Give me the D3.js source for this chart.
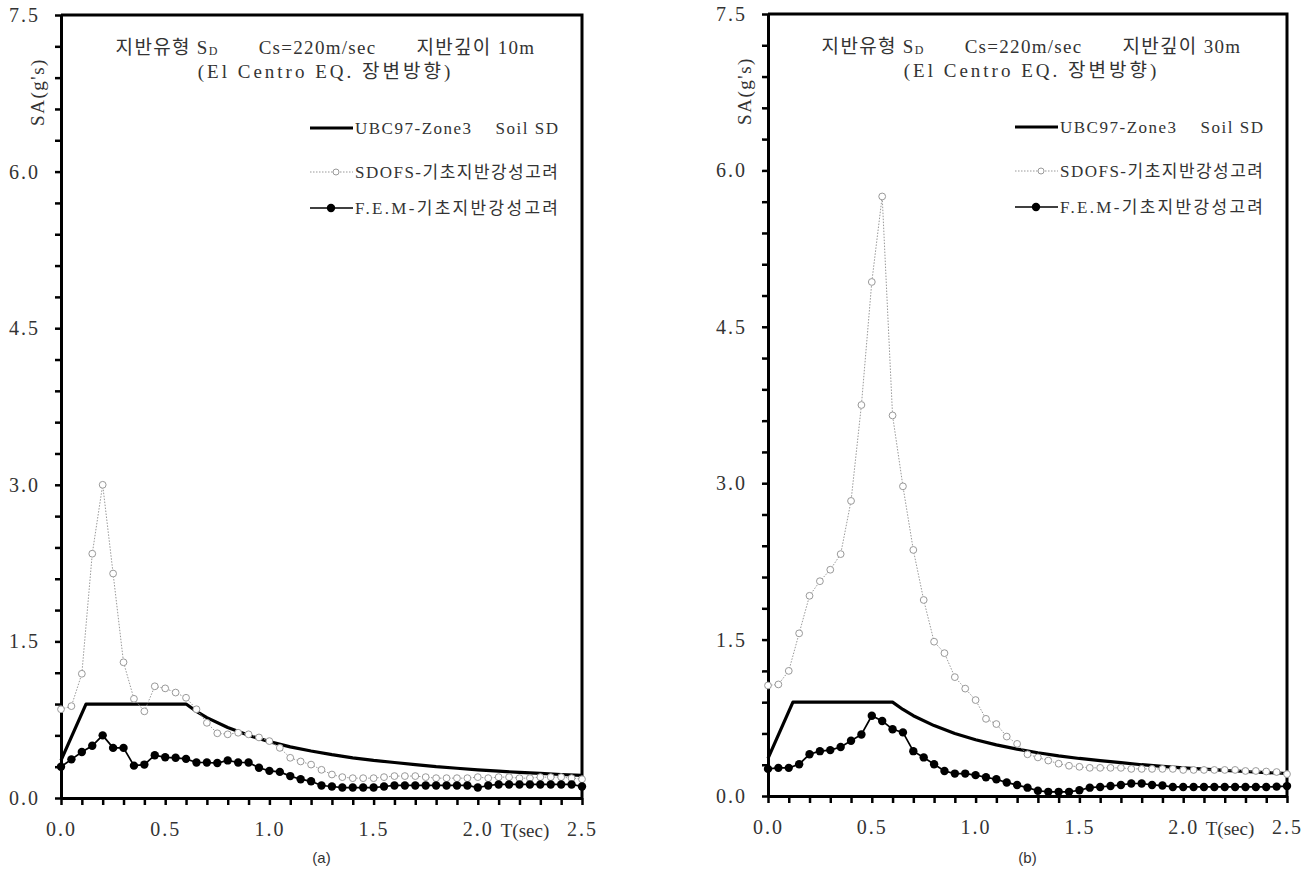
<!DOCTYPE html>
<html>
<head>
<meta charset="utf-8">
<script src="https://cdn.jsdelivr.net/npm/d3@7"></script>
<style>
  body { margin: 0; background: #fff; }
  text { font-family: "Liberation Serif", "Noto Sans CJK KR", serif; fill: #333; }
</style>
</head>
<body>
<svg id="chart" width="1312" height="876"></svg>
<script>
// periods (sec) of the computed spectra
var periods = [0.00, 0.05, 0.10, 0.15, 0.20, 0.25, 0.30, 0.35, 0.40, 0.45,
  0.50, 0.55, 0.60, 0.65, 0.70, 0.75, 0.80, 0.85, 0.90, 0.95,
  1.00, 1.05, 1.10, 1.15, 1.20, 1.25, 1.30, 1.35, 1.40, 1.45,
  1.50, 1.55, 1.60, 1.65, 1.70, 1.75, 1.80, 1.85, 1.90, 1.95,
  2.00, 2.05, 2.10, 2.15, 2.20, 2.25, 2.30, 2.35, 2.40, 2.45, 2.50];

// UBC97 design spectrum (Zone 3, soil SD)
var ubcPeriod = [0, 0.12, 0.6, 0.65, 0.7, 0.8, 0.9, 1.0, 1.1, 1.2, 1.3, 1.4, 1.5,
  1.6, 1.7, 1.8, 1.9, 2.0, 2.1, 2.2, 2.3, 2.4, 2.5];
var ubcSA = [0.36, 0.9, 0.9, 0.83, 0.77, 0.675, 0.6, 0.54, 0.49, 0.45, 0.415, 0.385, 0.36,
  0.34, 0.32, 0.30, 0.285, 0.27, 0.257, 0.245, 0.235, 0.225, 0.216];

// (a) depth 10m
var sdofsA = [0.85, 0.88, 1.19, 2.34, 3.00, 2.15, 1.30, 0.95, 0.83, 1.07,
  1.05, 1.01, 0.96, 0.85, 0.72, 0.62, 0.61, 0.625, 0.61, 0.58,
  0.545, 0.48, 0.385, 0.35, 0.32, 0.27, 0.225, 0.20, 0.19, 0.19,
  0.19, 0.20, 0.21, 0.21, 0.21, 0.20, 0.19, 0.19, 0.19, 0.19,
  0.20, 0.19, 0.20, 0.20, 0.19, 0.19, 0.20, 0.20, 0.20, 0.19, 0.18];
var femA = [0.30, 0.37, 0.44, 0.50, 0.60, 0.48, 0.48, 0.31, 0.32, 0.41,
  0.39, 0.385, 0.375, 0.34, 0.34, 0.335, 0.36, 0.34, 0.34, 0.29,
  0.26, 0.25, 0.21, 0.18, 0.16, 0.12, 0.11, 0.10, 0.10, 0.10,
  0.10, 0.11, 0.12, 0.12, 0.12, 0.12, 0.12, 0.12, 0.12, 0.12,
  0.10, 0.12, 0.13, 0.13, 0.13, 0.13, 0.13, 0.13, 0.13, 0.13, 0.11];

// (b) depth 30m
var sdofsB = [1.06, 1.07, 1.20, 1.56, 1.92, 2.06, 2.17, 2.32, 2.83, 3.75,
  4.93, 5.75, 3.65, 2.97, 2.36, 1.88, 1.48, 1.37, 1.14, 1.03,
  0.92, 0.74, 0.69, 0.57, 0.50, 0.40, 0.37, 0.34, 0.31, 0.29,
  0.28, 0.27, 0.27, 0.27, 0.27, 0.26, 0.26, 0.26, 0.26, 0.26,
  0.25, 0.25, 0.25, 0.25, 0.25, 0.25, 0.24, 0.24, 0.235, 0.23, 0.21];
var femB = [0.26, 0.27, 0.27, 0.305, 0.40, 0.43, 0.44, 0.47, 0.53, 0.59,
  0.77, 0.72, 0.64, 0.61, 0.43, 0.37, 0.305, 0.24, 0.215, 0.215,
  0.20, 0.18, 0.16, 0.13, 0.105, 0.08, 0.05, 0.04, 0.04, 0.04,
  0.055, 0.08, 0.087, 0.096, 0.106, 0.12, 0.12, 0.106, 0.10, 0.087,
  0.087, 0.087, 0.087, 0.087, 0.087, 0.087, 0.087, 0.087, 0.087, 0.09, 0.095];

var seriesNames = ["UBC97-Zone3    Soil SD", "SDOFS-기초지반강성고려", "F.E.M-기초지반강성고려"];

var svg = d3.select("#chart");
svg.append("rect").attr("width", 1312).attr("height", 876).attr("fill", "#fff");

var panels = [
  { left: 61, right: 582, top: 15, bottom: 798, depth: "10m", sdofs: sdofsA, fem: femA, tag: "(a)" },
  { left: 768, right: 1287, top: 14, bottom: 796, depth: "30m", sdofs: sdofsB, fem: femB, tag: "(b)" }
];

panels.forEach(drawPanel);

function drawPanel(p) {
  var x = d3.scaleLinear().domain([0, 2.5]).range([p.left, p.right]);
  var y = d3.scaleLinear().domain([0, 7.5]).range([p.bottom, p.top]);
  var g = svg.append("g");
  var cx = (p.left + p.right) / 2 + 4;

  // top and right frame
  g.append("path")
    .attr("d", `M${p.left},${p.top}H${p.right}V${p.bottom}`)
    .attr("fill", "none").attr("stroke", "#000").attr("stroke-width", 3);

  // y axis
  var yAxis = d3.axisLeft(y)
    .tickValues(d3.range(26).map(i => i * 0.3))
    .tickSize(6).tickSizeOuter(0).tickPadding(15)
    .tickFormat((d, i) => i % 5 === 0 ? d3.format(".1f")(d) : "");
  var yg = g.append("g").attr("transform", `translate(${p.left},0)`).call(yAxis);

  // x axis
  var xAxis = d3.axisBottom(x)
    .tickValues(d3.range(26).map(i => i / 10))
    .tickSize(7).tickSizeOuter(0).tickPadding(17)
    .tickFormat((d, i) => i % 5 === 0 ? d3.format(".1f")(d) : "");
  var xg = g.append("g").attr("transform", `translate(0,${p.bottom})`).call(xAxis);

  [yg, xg].forEach(function (a) {
    a.attr("font-size", null).attr("font-family", null);
    a.select(".domain").attr("stroke-width", 3);
    a.selectAll(".tick line").attr("stroke-width", 2.5);
    a.selectAll(".tick text")
      .style("font-family", "Liberation Serif").style("font-size", "20px")
      .style("letter-spacing", "2px").attr("fill", "#333");
  });

  g.append("text")
    .attr("x", x(2.5) - 57).attr("y", p.bottom + 32)
    .attr("text-anchor", "middle").attr("dominant-baseline", "central")
    .style("font-size", "19px")
    .text("T(sec)");

  g.append("text")
    .attr("transform", `translate(${p.left - 24},${p.top + 77}) rotate(-90)`)
    .attr("text-anchor", "middle").attr("dominant-baseline", "central")
    .style("font-size", "19px").style("letter-spacing", "1.5px")
    .text("SA(g's)");

  // title
  var t1 = g.append("text").attr("x", cx).attr("y", p.top + 32)
    .attr("text-anchor", "middle").attr("dominant-baseline", "central")
    .style("font-size", "19px").style("letter-spacing", "1.3px");
  t1.append("tspan").text("지반유형 S");
  t1.append("tspan").attr("dy", 4).style("font-size", "12px").text("D");
  t1.append("tspan").attr("dy", -4).attr("dx", 40).text("Cs=220m/sec");
  t1.append("tspan").attr("dx", 40).text("지반깊이 " + p.depth);

  g.append("text").attr("x", cx).attr("y", p.top + 56)
    .attr("text-anchor", "middle").attr("dominant-baseline", "central")
    .style("font-size", "19px").style("letter-spacing", "3px")
    .text("(El Centro EQ. 장변방향)");

  // UBC97 spectrum
  var line = d3.line().x(d => x(d[0])).y(d => y(d[1]));
  g.append("path")
    .datum(d3.zip(ubcPeriod, ubcSA))
    .attr("d", line)
    .attr("fill", "none").attr("stroke", "#000").attr("stroke-width", 3.2)
    .attr("stroke-linejoin", "round");

  // SDOFS
  var sd = d3.zip(periods, p.sdofs);
  g.append("path").datum(sd).attr("d", line)
    .attr("fill", "none").attr("stroke", "#999").attr("stroke-width", 1)
    .attr("stroke-dasharray", "1.5,1.5");
  g.append("g").selectAll("circle").data(sd).enter().append("circle")
    .attr("cx", d => x(d[0])).attr("cy", d => y(d[1])).attr("r", 3.4)
    .attr("fill", "#fff").attr("stroke", "#999").attr("stroke-width", 1);

  // F.E.M
  var fe = d3.zip(periods, p.fem);
  g.append("path").datum(fe).attr("d", line)
    .attr("fill", "none").attr("stroke", "#000").attr("stroke-width", 1.7);
  g.append("g").selectAll("circle").data(fe).enter().append("circle")
    .attr("cx", d => x(d[0])).attr("cy", d => y(d[1])).attr("r", 4.2)
    .attr("fill", "#000");

  // legend
  var lx = p.right - 272, rows = [p.top + 113, p.top + 157, p.top + 193];
  var lg = g.append("g");
  lg.append("line").attr("x1", lx).attr("x2", lx + 43).attr("y1", rows[0]).attr("y2", rows[0])
    .attr("stroke", "#000").attr("stroke-width", 3);
  lg.append("line").attr("x1", lx).attr("x2", lx + 43).attr("y1", rows[1]).attr("y2", rows[1])
    .attr("stroke", "#999").attr("stroke-width", 1).attr("stroke-dasharray", "1.5,1.5");
  lg.append("circle").attr("cx", lx + 26).attr("cy", rows[1]).attr("r", 3)
    .attr("fill", "#fff").attr("stroke", "#999");
  lg.append("line").attr("x1", lx).attr("x2", lx + 43).attr("y1", rows[2]).attr("y2", rows[2])
    .attr("stroke", "#000").attr("stroke-width", 1.5);
  lg.append("circle").attr("cx", lx + 21).attr("cy", rows[2]).attr("r", 4.2).attr("fill", "#000");
  lg.selectAll("text.lab").data(seriesNames).enter().append("text")
    .attr("class", "lab")
    .attr("x", lx + 45).attr("y", (d, i) => rows[i])
    .attr("dominant-baseline", "central")
    .style("font-size", "17px").style("white-space", "pre")
    .attr("textLength", 203).attr("lengthAdjust", "spacing")
    .text(d => d);

  // panel tag
  svg.append("text")
    .attr("x", (p.left + p.right) / 2).attr("y", 857)
    .attr("text-anchor", "middle").attr("dominant-baseline", "central")
    .style("font-family", "Liberation Sans").style("font-size", "15px")
    .text(p.tag);
}
</script>
</body>
</html>
